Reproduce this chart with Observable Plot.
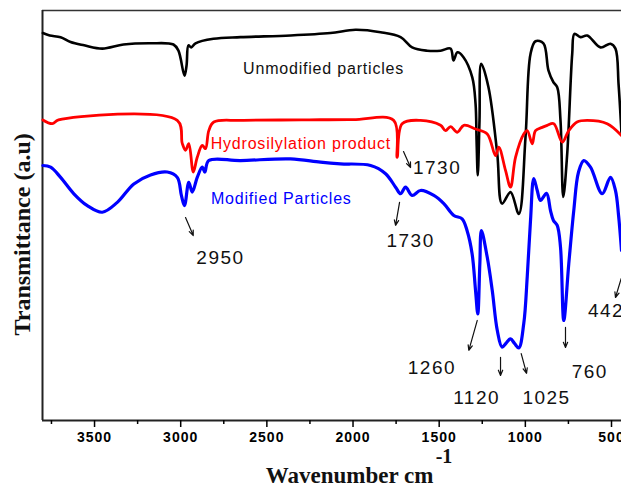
<!DOCTYPE html>
<html><head><meta charset="utf-8">
<script src="https://cdn.jsdelivr.net/npm/d3@7"></script>
<script src="https://cdn.jsdelivr.net/npm/@observablehq/plot@0.6"></script>
<style>
html,body{margin:0;padding:0;background:#fff;}
#chart svg{display:block;}
</style>
</head><body><div id="chart"></div>
<script>
// ---- data (wavenumber cm-1, transmittance a.u.) ----
const unmodWn = [3800,3760,3697,3639,3560,3455,3332,3175,3042,3013,2978,2966,2955,2939,2914,2810,2653,2363,2131,1986,1840,1724,1657,1570,1492,1434,1417,1394,1359,1308,1289,1283,1276,1266,1256,1214,1163,1135,1086,1038,999,970,941,895,866,837,815,796,780,757,728,715,680,641,564,506,477,459,442];
const unmodT  = [94.5,93.9,93.5,92.3,91.5,90.7,91.7,92.0,91.7,90.2,84.1,86.6,91.5,91.0,92.0,93.1,93.5,93.9,94.5,95.3,94.7,93.5,91.0,90.2,90.2,90.7,87.8,89.8,88.6,83.7,77.3,68.3,59.8,73.2,87.0,81.3,65.1,52.9,55.7,50.4,69.1,89.4,92.5,92.0,85.4,82.5,81.3,73.2,54.5,65.1,89.4,94.3,93.5,93.9,91.0,91.9,90.7,82.0,70.0];

const hydroWn = [3800,3745,3709,3020,2991,2972,2953,2927,2904,2875,2856,2837,2808,2653,2300,2000,1764,1744,1715,1608,1492,1463,1434,1395,1357,1289,1221,1173,1154,1115,1086,1057,1009,989,960,941,902,873,835,786,748,700,641,525,442];
const hydroT  = [73.3,72.4,73.3,73.2,67.6,65.9,67.5,60.6,64.2,67.1,66.3,70.7,72.8,73.2,73.3,73.4,73.2,64.2,72.4,73.2,72.0,70.7,71.7,70.3,72.0,71.1,69.9,64.6,66.7,61.0,56.9,64.2,69.9,70.7,67.5,70.7,71.5,72.0,72.4,67.9,70.7,72.8,73.2,72.4,69.5];

const modWn = [3800,3755,3697,3620,3542,3455,3368,3272,3175,3078,3020,2996,2978,2953,2933,2904,2875,2860,2837,2653,2363,2189,2073,1898,1811,1753,1724,1695,1657,1608,1531,1473,1415,1367,1338,1309,1289,1276,1264,1255,1221,1192,1163,1135,1109,1086,1063,1038,1009,989,970,951,931,912,877,854,837,815,796,777,748,719,692,661,622,554,506,477,459,442];
const modT  = [62.2,61.8,59.3,55.3,52.4,50.8,53.2,57.7,59.9,60.6,59.3,54.9,52.4,58.1,55.7,59.3,61.8,60.6,63.4,63.4,63.8,63.0,62.6,62.2,60.2,56.9,55.3,56.9,54.9,56.1,54.9,52.9,50.0,49.2,46.3,40.7,31.7,26.0,38.3,46.3,39.8,31.7,22.0,17.9,19.0,19.9,18.8,17.7,23.7,35.1,48.8,59.0,56.1,53.7,55.4,51.2,48.8,47.6,42.3,24.4,38.2,51.2,60.5,63.4,61.8,55.3,59.3,56.1,50.0,41.5];

const majorTicks = [3500,3000,2500,2000,1500,1000,500];
const minorTicks = [3750,3250,2750,2250,1750,1250,750];

const seriesNames  = ["Unmodified particles","Hydrosilylation product","Modified Particles"];
const seriesColors = ["#111111","#ff0000","#0000ff"];
const seriesLabelWn = [2171,2303,2416];
const seriesLabelT  = [85.8,67.4,54.0];

const peakText = ["1730","1730","2950","1260","1120","1025","760"];
const peakWn   = [1512,1666,2769,1542,1283,877,626];
const peakT    = [61.5,43.7,39.7,12.8,5.4,5.4,11.8];
const edgeText = ["442"];
const edgeWn   = [637];
const edgeT    = [26.8];

const arrowWn1 = [1707,1730,2972,1279,1144,1024,767,444];
const arrowT1  = [65.6,53.2,49.5,24.4,15.4,16.3,22.7,34.6];
const arrowWn2 = [1666,1753,2927,1328,1144,993,767,477];
const arrowT2  = [61.7,47.6,45.1,17.1,11.0,11.5,17.8,30.0];

const xDomain = [3802, 442];

const idx = (arr) => arr.map((_, i) => i);
const serif = "'Liberation Serif','Times New Roman',serif";
const sans = "'Liberation Sans',Arial,sans-serif";

const chart = Plot.plot({
  width: 621, height: 486,
  marginLeft: 42, marginRight: 0, marginTop: 10, marginBottom: 66,
  style: {background: "#fff", fontFamily: sans, overflow: "visible"},
  x: {domain: xDomain, label: null},
  y: {domain: [0, 100], axis: null},
  marks: [
    Plot.ruleY([100], {stroke: "#333", strokeWidth: 1.5}),
    Plot.ruleX([xDomain[0]], {stroke: "#222", strokeWidth: 2}),
    Plot.ruleY([0], {stroke: "#222", strokeWidth: 2}),
    Plot.axisX({ticks: majorTicks, tickSize: 7, tickPadding: 5, tickFormat: d => String(d), fontSize: 14, fontWeight: "bold", label: null, strokeWidth: 1.5, fontFamily: sans}),
    Plot.axisX({ticks: minorTicks, tickSize: 4, tickFormat: () => "", label: null, strokeWidth: 1.5}),
    Plot.line(idx(unmodWn), {x: i => unmodWn[i], y: i => unmodT[i], stroke: "#000", strokeWidth: 2.6, curve: "catmull-rom"}),
    Plot.line(idx(hydroWn), {x: i => hydroWn[i], y: i => hydroT[i], stroke: "#ff0000", strokeWidth: 2.8, curve: "catmull-rom"}),
    Plot.line(idx(modWn), {x: i => modWn[i], y: i => modT[i], stroke: "#0000ff", strokeWidth: 3.2, curve: "catmull-rom"}),
    Plot.text(idx(seriesNames), {x: i => seriesLabelWn[i], y: i => seriesLabelT[i], text: i => seriesNames[i], fill: i => seriesColors[i], fontSize: 16, fontFamily: sans}),
    Plot.text(idx(peakText), {x: i => peakWn[i], y: i => peakT[i], text: i => peakText[i], textAnchor: "middle", fill: "#111", fontSize: 19, fontFamily: sans}),
    Plot.text(idx(edgeText), {x: i => edgeWn[i], y: i => edgeT[i], text: i => edgeText[i], textAnchor: "start", fill: "#111", fontSize: 19, fontFamily: sans}),
    Plot.arrow(idx(arrowWn1), {x1: i => arrowWn1[i], y1: i => arrowT1[i], x2: i => arrowWn2[i], y2: i => arrowT2[i], stroke: "#111", strokeWidth: 1.2, headLength: 7, headAngle: 45}),
    Plot.text(["Wavenumber cm"], {x: [2020], frameAnchor: "bottom", lineAnchor: "bottom", dy: 62, fontSize: 23, fontWeight: "bold", fontFamily: serif, fill: "#111"}),
    Plot.text(["-1"], {x: [1472], frameAnchor: "bottom", lineAnchor: "bottom", dy: 42, fontSize: 20, fontWeight: "bold", fontFamily: serif, fill: "#111"}),
    Plot.text(["Transmittance (a.u)"], {y: [45.4], frameAnchor: "left", textAnchor: "middle", rotate: -90, dx: -20, fontSize: 24, fontWeight: "bold", fontFamily: serif, fill: "#111"})
  ]
});
document.getElementById("chart").appendChild(chart);
// letter spacing to match the wide lettering of the original
const curveSet = new Set(seriesNames);
const peakSet = new Set(peakText.concat(edgeText));
const tickSet = new Set(majorTicks.map(String));
d3.select(chart).selectAll("text").each(function(){
  const t = this.textContent;
  if (curveSet.has(t)) this.setAttribute("letter-spacing", "0.8");
  else if (peakSet.has(t)) this.setAttribute("letter-spacing", "1.5");
  else if (tickSet.has(t)) this.setAttribute("letter-spacing", "1");
});
</script>
</body></html>
